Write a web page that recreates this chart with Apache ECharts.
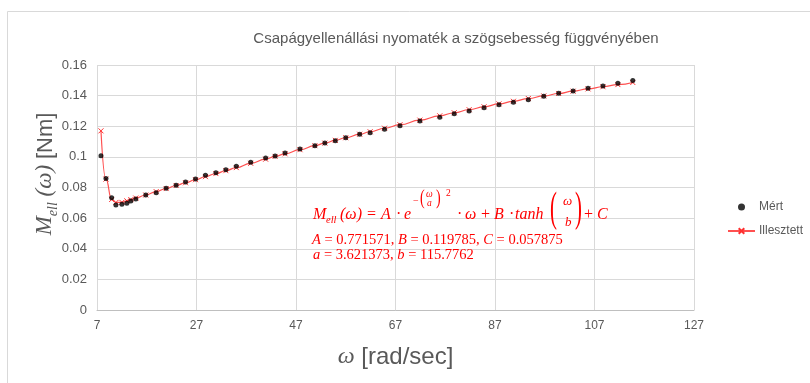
<!DOCTYPE html>
<html><head><meta charset="utf-8">
<script src="https://cdn.jsdelivr.net/npm/echarts@6/dist/echarts.min.js"></script>
<style>html,body{margin:0;padding:0;background:#fff}#c{width:810px;height:383px}</style>
</head><body><div id="c"></div>
<script>
// ω [rad/sec]
const omega = [7.8, 8.8, 9.95, 10.8, 12.0, 13.0, 13.8, 14.8, 16.8, 18.9, 20.9, 22.9, 24.8, 26.8, 28.8, 30.9, 32.9, 35.0, 37.9, 40.9, 42.8, 44.8, 47.8, 50.8, 52.8, 54.9, 57.0, 59.8, 61.9, 64.8, 67.9, 71.9, 75.9, 78.8, 81.8, 84.8, 87.8, 90.7, 93.7, 96.8, 99.8, 102.7, 105.7, 108.7, 111.7, 114.7];
// Mért [Nm]
const measured = [0.1008, 0.0858, 0.0733, 0.0686, 0.0690, 0.0697, 0.0712, 0.0725, 0.0751, 0.0766, 0.0795, 0.0814, 0.0836, 0.0856, 0.0880, 0.0897, 0.0916, 0.0938, 0.0965, 0.0993, 0.1006, 0.1025, 0.1051, 0.1073, 0.1091, 0.1106, 0.1125, 0.1147, 0.1158, 0.1180, 0.1204, 0.1234, 0.1259, 0.1282, 0.1300, 0.1321, 0.1340, 0.1356, 0.1373, 0.1396, 0.1415, 0.1430, 0.1448, 0.1463, 0.1481, 0.1498];
// Illesztett [Nm]
const fitted = [0.1170, 0.0855, 0.0722, 0.0702, 0.0703, 0.0713, 0.0721, 0.0731, 0.0751, 0.0773, 0.0793, 0.0813, 0.0831, 0.0851, 0.0871, 0.0891, 0.0910, 0.0930, 0.0958, 0.0985, 0.1003, 0.1020, 0.1047, 0.1073, 0.1090, 0.1108, 0.1125, 0.1148, 0.1164, 0.1187, 0.1210, 0.1240, 0.1268, 0.1288, 0.1308, 0.1327, 0.1346, 0.1363, 0.1381, 0.1398, 0.1414, 0.1429, 0.1444, 0.1458, 0.1472, 0.1486];
const seriesNames = ['Mért', 'Illesztett'];
const titleText = 'Csapágyellenállási nyomaték a szögsebesség függvényében';
const paramLine1 = ['A', '0.771571', 'B', '0.119785', 'C', '0.057875'];
const paramLine2 = ['a', '3.621373', 'b', '115.7762'];
const xTicks = {min: 7, max: 127, step: 20};
const yTicks = {min: 0, max: 0.16, step: 0.02};

const RED = '#ff0000';
const GREY = '#595959';
const SERIF = '"Liberation Serif", "DejaVu Serif", serif';
const SANS = '"Liberation Sans", Arial, sans-serif';

// annotation text placed by its baseline
function t(text, x, baseline, size, opts) {
  opts = opts || {};
  const el = {
    type: 'text', x: x, y: baseline - 0.34 * size, z: 50, silent: true,
    style: {
      text: text, fill: RED, fontSize: size, fontFamily: SERIF,
      fontStyle: opts.upright ? 'normal' : 'italic',
      verticalAlign: 'middle', align: 'left'
    }
  };
  if (opts.sy) { el.scaleY = opts.sy; el.y = opts.cy; }
  if (opts.sx) { el.scaleX = opts.sx; }
  return el;
}

const formula = [
  t('M', 313, 220, 16),
  t('ell', 326, 223.5, 10.5),
  t('(ω)', 340, 220, 16),
  t('=', 367, 220, 16, {upright: true}),
  t('A', 381, 220, 16),
  t('·', 396, 220, 16, {upright: true}),
  t('e', 404, 220, 16),
  t('−', 413, 205, 10, {upright: true}),
  t('(', 420, 0, 14, {upright: true, sy: 1.5, cy: 198}),
  t('ω', 426, 198, 9.5),
  t('a', 427, 207, 9.5),
  t(')', 436, 0, 14, {upright: true, sy: 1.5, cy: 198}),
  t('2', 446, 197, 9.5, {upright: true}),
  t('·', 457, 220, 16, {upright: true}),
  t('ω', 465, 220, 16),
  t('+', 481, 220, 16, {upright: true}),
  t('B', 494, 220, 16),
  t('·', 509, 220, 16, {upright: true}),
  t('tanh', 515, 220, 16),
  t('(', 550, 0, 26, {upright: true, sy: 1.6, sx: 0.8, cy: 210}),
  t('ω', 563, 206, 13),
  t('b', 565, 227, 13),
  t(')', 575, 0, 26, {upright: true, sy: 1.6, sx: 0.8, cy: 210}),
  t('+', 584, 220, 16, {upright: true}),
  t('C', 597, 220, 16)
];

function paramText(arr, x, baseline) {
  let s = '';
  for (let i = 0; i < arr.length; i += 2) {
    if (i) s += '{n|, }';
    s += '{i|' + arr[i] + '}{n| = ' + arr[i + 1] + '}';
  }
  const fs = 14.5;
  return {
    type: 'text', x: x, y: baseline - 0.34 * fs, z: 50, silent: true,
    style: {
      text: s, fill: RED, fontSize: fs, fontFamily: SERIF, verticalAlign: 'middle', align: 'left',
      rich: {
        i: {fontStyle: 'italic', fontSize: fs, fontFamily: SERIF, fill: RED},
        n: {fontSize: fs, fontFamily: SERIF, fill: RED}
      }
    }
  };
}

const chart = echarts.init(document.getElementById('c'), null, {renderer: 'canvas'});
chart.setOption({
  animation: false,
  backgroundColor: '#fff',
  title: {
    text: titleText, left: 451, top: 26, textAlign: 'center',
    textStyle: {color: GREY, fontSize: 15, fontWeight: 'normal', fontFamily: SANS}
  },
  grid: {left: 97, right: 116, top: 65, bottom: 73},
  legend: {
    orient: 'vertical', left: 727, top: 201, padding: 0, itemWidth: 27, itemHeight: 7, itemGap: 12,
    data: seriesNames,
    textStyle: {color: GREY, fontSize: 12, fontFamily: SANS, padding: [0, 0, 0, -1]}
  },
  xAxis: {
    type: 'value', min: xTicks.min, max: xTicks.max, interval: xTicks.step,
    axisLine: {show: true, onZero: false, lineStyle: {color: '#bfbfbf'}},
    axisTick: {show: false},
    splitLine: {show: true, lineStyle: {color: '#d9d9d9'}},
    axisLabel: {color: GREY, fontSize: 12, fontFamily: SANS, margin: 10},
    name: '{w|ω} [rad/sec]', nameLocation: 'middle', nameGap: 35,
    nameTextStyle: {
      color: GREY, fontSize: 24, fontFamily: SANS,
      rich: {w: {fontStyle: 'italic', fontFamily: SERIF, fontSize: 24, color: GREY}}
    }
  },
  yAxis: {
    type: 'value', min: yTicks.min, max: yTicks.max, interval: yTicks.step,
    axisLine: {show: false}, axisTick: {show: false},
    splitLine: {show: true, lineStyle: {color: '#d9d9d9'}},
    axisLabel: {color: GREY, fontSize: 13, fontFamily: SANS, margin: 10,
      formatter: v => String(+v.toFixed(2))}
  },
  graphic: [
    {type: 'rect', z: -10, silent: true, shape: {x: 7.5, y: 11.5, width: 1000, height: 1000},
      style: {fill: 'none', stroke: '#d9d9d9', lineWidth: 1}},
    {
      type: 'text', x: 45, y: 174, rotation: Math.PI / 2, z: 50, silent: true,
      style: {
        text: '{m|M}{s|ell}{m| (ω) }{n|[Nm]}', align: 'center', verticalAlign: 'middle',
        fill: GREY,
        rich: {
          m: {fontStyle: 'italic', fontFamily: SERIF, fontSize: 23, fill: GREY, verticalAlign: 'bottom'},
          s: {fontStyle: 'italic', fontFamily: SERIF, fontSize: 14, fill: GREY, verticalAlign: 'bottom', padding: [0, 0, -4, 0]},
          n: {fontFamily: SANS, fontSize: 22, fill: GREY, verticalAlign: 'bottom'}
        }
      }
    },
    ...formula,
    paramText(paramLine1, 312, 245),
    paramText(paramLine2, 313, 260)
  ],
  series: [
    {
      name: seriesNames[0], type: 'scatter', z: 4,
      data: omega.map((w, i) => [w, measured[i]]),
      symbol: 'circle', symbolSize: 5,
      itemStyle: {color: '#000'}
    },
    {
      name: seriesNames[1], type: 'line', z: 3,
      data: omega.map((w, i) => [w, fitted[i]]),
      smooth: true, smoothMonotone: 'x',
      symbol: 'path://M0,0L10,10M10,0L0,10', symbolSize: 5, showSymbol: true,
      lineStyle: {color: '#ff5050', width: 1.2},
      itemStyle: {color: 'none', borderColor: '#ff3030', borderWidth: 1}
    }
  ]
});
</script></body></html>
